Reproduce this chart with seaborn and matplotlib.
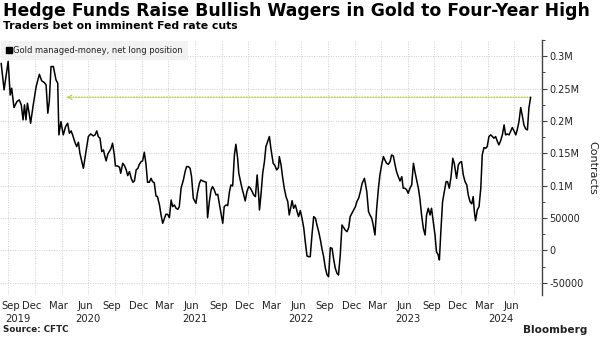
import matplotlib
matplotlib.use("Agg")
import matplotlib.pyplot as plt
import matplotlib.ticker as mticker
from matplotlib.lines import Line2D
import seaborn as sns
import pandas as pd

# ---------------- data ----------------
dates = [
    "2019-09-06", "2019-09-16", "2019-09-30", "2019-10-07", "2019-10-12", "2019-10-20", "2019-10-30",
    "2019-11-07", "2019-11-14", "2019-11-20", "2019-11-25", "2019-11-30", "2019-12-05", "2019-12-11",
    "2019-12-16", "2019-12-25", "2020-01-04", "2020-01-15", "2020-01-23", "2020-02-01", "2020-02-07",
    "2020-02-13", "2020-02-18", "2020-02-24", "2020-03-03", "2020-03-12", "2020-03-18", "2020-03-22",
    "2020-03-29", "2020-04-06", "2020-04-14", "2020-04-21", "2020-04-27", "2020-05-03", "2020-05-08",
    "2020-05-16", "2020-05-22", "2020-05-28", "2020-06-02", "2020-06-14", "2020-06-23", "2020-07-01",
    "2020-07-09", "2020-07-18",
    "2020-07-24", "2020-07-30", "2020-08-04", "2020-08-10", "2020-08-16", "2020-08-22", "2020-08-25",
    "2020-08-31", "2020-09-06", "2020-09-11", "2020-09-17", "2020-09-22", "2020-09-28", "2020-10-02",
    "2020-10-09", "2020-10-16", "2020-10-20", "2020-10-27", "2020-11-02", "2020-11-08", "2020-11-13",
    "2020-11-19", "2020-11-25", "2020-12-01", "2020-12-06", "2020-12-12", "2020-12-18", "2020-12-23",
    "2020-12-29", "2021-01-03", "2021-01-09", "2021-01-15", "2021-01-20", "2021-01-26", "2021-02-01",
    "2021-02-06", "2021-02-12", "2021-02-18", "2021-02-23", "2021-03-02", "2021-03-07", "2021-03-13",
    "2021-03-19", "2021-03-24", "2021-03-30", "2021-04-05", "2021-04-11", "2021-04-16", "2021-04-22",
    "2021-04-28", "2021-05-04", "2021-05-09", "2021-05-15", "2021-05-23", "2021-05-29",
    "2021-06-03", "2021-06-09", "2021-06-15", "2021-06-20", "2021-06-26", "2021-07-02", "2021-07-05",
    "2021-07-11", "2021-07-17", "2021-07-22", "2021-07-28", "2021-08-03", "2021-08-09", "2021-08-14",
    "2021-08-20", "2021-08-26", "2021-08-31", "2021-09-06", "2021-09-12", "2021-09-18", "2021-09-23",
    "2021-09-29", "2021-10-05", "2021-10-10", "2021-10-16", "2021-10-22", "2021-10-28", "2021-11-02",
    "2021-11-08", "2021-11-14", "2021-11-19", "2021-11-25", "2021-11-29", "2021-12-04", "2021-12-10",
    "2021-12-16", "2021-12-21", "2021-12-27", "2022-01-02", "2022-01-08", "2022-01-14", "2022-01-19",
    "2022-01-25", "2022-01-31", "2022-02-05", "2022-02-08", "2022-02-13", "2022-02-19", "2022-02-25",
    "2022-03-02", "2022-03-08", "2022-03-14", "2022-03-19",
    "2022-03-27", "2022-04-02", "2022-04-08", "2022-04-14", "2022-04-17", "2022-04-23", "2022-04-28",
    "2022-05-04", "2022-05-10", "2022-05-16", "2022-05-21", "2022-05-27", "2022-05-31", "2022-06-05",
    "2022-06-11", "2022-06-17", "2022-06-22", "2022-06-28", "2022-07-04", "2022-07-10", "2022-07-15",
    "2022-07-21", "2022-07-27", "2022-08-01", "2022-08-07", "2022-08-13", "2022-08-19", "2022-08-24",
    "2022-08-30", "2022-09-05", "2022-09-10", "2022-09-16", "2022-09-22", "2022-09-28", "2022-10-03",
    "2022-10-09", "2022-10-15", "2022-10-20", "2022-10-26", "2022-11-01", "2022-11-06", "2022-11-12",
    "2022-11-18", "2022-11-23", "2022-11-29", "2022-12-05", "2022-12-11", "2022-12-16", "2022-12-22",
    "2022-12-28", "2023-01-03", "2023-01-08", "2023-01-14", "2023-01-20", "2023-01-26", "2023-02-03",
    "2023-02-11", "2023-02-17", "2023-02-22", "2023-02-28", "2023-03-05", "2023-03-11", "2023-03-17",
    "2023-03-23", "2023-03-28", "2023-04-03", "2023-04-09", "2023-04-14", "2023-04-20", "2023-04-26",
    "2023-05-02", "2023-05-07", "2023-05-13", "2023-05-19", "2023-05-24", "2023-05-30", "2023-06-05",
    "2023-06-11", "2023-06-16", "2023-06-22", "2023-06-28", "2023-07-03", "2023-07-09", "2023-07-15",
    "2023-07-21", "2023-07-26", "2023-08-01", "2023-08-07", "2023-08-12", "2023-08-18", "2023-08-24",
    "2023-08-30", "2023-09-04", "2023-09-10", "2023-09-16", "2023-09-21", "2023-09-27", "2023-10-03",
    "2023-10-08", "2023-10-14", "2023-10-18", "2023-10-23", "2023-10-29", "2023-11-04", "2023-11-10",
    "2023-11-15", "2023-11-21", "2023-11-27", "2023-12-03", "2023-12-08",
    "2023-12-16", "2023-12-22", "2023-12-28", "2024-01-02", "2024-01-08", "2024-01-14", "2024-01-20",
    "2024-01-25", "2024-01-31", "2024-02-06", "2024-02-11", "2024-02-15", "2024-02-19", "2024-02-25",
    "2024-03-02", "2024-03-08", "2024-03-13", "2024-03-19", "2024-03-25", "2024-03-30", "2024-04-05",
    "2024-04-11", "2024-04-17", "2024-04-22", "2024-04-28", "2024-05-04", "2024-05-09", "2024-05-15",
    "2024-05-21", "2024-05-27", "2024-06-01", "2024-06-07", "2024-06-13", "2024-06-18", "2024-06-24",
    "2024-06-30", "2024-07-06", "2024-07-11", "2024-07-17", "2024-07-23", "2024-07-29", "2024-08-03",
    "2024-08-09", "2024-08-15", "2024-08-20", "2024-08-26",
]

net_long = [
    289000, 248000, 292000, 240000, 250500, 220600, 229900,
    232500, 224800, 201600, 224800, 201600, 227300, 211900,
    196400, 224800, 253000, 272000, 261900, 259300, 255700,
    211900, 229900, 284000, 284000, 263400, 258300, 178400,
    199000, 178400, 191300, 196400, 181000, 184500, 178400,
    167000, 160300, 167000, 150000, 126800, 152600, 175800,
    179900, 176800,
    178400, 184500, 175800, 173300, 152600, 155200, 148500,
    138200, 149000, 152600, 157700, 165500, 147400, 130400,
    130400, 128400, 119100, 134500, 130900, 124200, 115500,
    121700, 111300, 105200, 107200, 124200, 126800, 133000,
    137100, 138200, 151600, 132000, 105200, 105200, 111300,
    106200, 104600, 84000, 83000, 70100, 55700, 41800,
    49500, 55700, 55700, 50500, 77800, 67500, 70100,
    65000, 63400, 67500, 95900, 108800, 121700,
    129400, 129400, 126800, 113900, 80400, 75300, 72700,
    90700, 103600, 108800, 107200, 106200, 105200, 50500,
    75300, 93300, 98500, 93300, 85600, 86600, 72700,
    57200, 41800, 67500, 70100, 69100, 90700, 101000,
    99500, 147400, 163900, 142300, 119100, 108800, 95900,
    85600, 76300, 90700, 98500, 95900, 90700, 85600,
    83000, 116500, 85600, 62400, 85600, 119100, 137100,
    160300, 168100, 175800, 157700,
    134500, 130900, 124200, 127800, 144900, 132000, 113900,
    95900, 83000, 75300, 54600, 67500, 76800, 65000,
    70100, 59800, 52100, 61300, 49500, 34000, 13400,
    -8800, -9800, -9800, 23700, 52100, 49500, 39200,
    28900, 16000, 3100, -9800, -27800, -38100, -40700,
    4100, 3100, -12400, -27800, -35600, -38100, -7200,
    39200, 35600, 31400, 28900, 35100, 52100, 57200,
    62400, 67500, 75300, 80400, 90700, 103600, 111300,
    90700, 59800, 54600, 49500, 39200, 23700, 65000,
    95900, 116500, 132000, 144900, 139700, 134500, 133000,
    137100, 147400, 145900, 132000, 121700, 113900, 107200,
    113900, 95900, 95900, 93300, 88200, 95900, 101000,
    134500, 121700, 108800, 95900, 80400, 54600, 34000,
    23700, 54600, 65000, 54600, 65000, 44300, 23700,
    -2100, -7200, -14900, 28900, 75300, 90700, 106200,
    106200, 95900, 113900, 142300, 134500,
    111300, 132000, 136100, 137100, 116500, 106200, 101000,
    85600, 75300, 71700, 83000, 59800, 45900, 62400,
    67500, 95900, 147400, 158800, 157700, 160300, 175800,
    178400, 175800, 173200, 175800, 168100, 162900, 169100,
    178400, 193800, 178400, 179900, 178400, 183500, 189700,
    184500, 178400, 186100, 199000, 220600, 206700, 193800,
    187600, 186100, 219600, 236600,
]

y_ticks = [-50000, 0, 50000, 100000, 150000, 200000, 250000, 300000]
y_tick_labels = ["-50000", "0", "50000", "0.1M", "0.15M", "0.2M", "0.25M", "0.3M"]

month_tick_dates = [
    "2019-09-08", "2019-12-20", "2020-03-20", "2020-06-20", "2020-09-20", "2020-12-20",
    "2021-03-20", "2021-06-20", "2021-09-20", "2021-12-20", "2022-03-20", "2022-06-20",
    "2022-09-20", "2022-12-20", "2023-03-20", "2023-06-20", "2023-09-20", "2023-12-20",
    "2024-03-20", "2024-06-20",
]
month_tick_labels = ["Sep", "Dec", "Mar", "Jun"] * 5
year_tick_dates = ["2019-11-03", "2020-07-01", "2021-07-01", "2022-07-01", "2023-07-01", "2024-05-17"]
year_tick_labels = ["2019", "2020", "2021", "2022", "2023", "2024"]

arrow_back_to = "2020-04-16"

title = "Hedge Funds Raise Bullish Wagers in Gold to Four-Year High"
subtitle = "Traders bet on imminent Fed rate cuts"
series_label = "Gold managed-money, net long position"
source = "Source: CFTC"

# ---------------- figure ----------------
sns.set_theme(style="white")
plt.rcParams["font.family"] = ["DejaVu Sans"]

df = pd.DataFrame({"date": pd.to_datetime(dates), "value": net_long})

fig = plt.figure(figsize=(6, 3.38), dpi=100)
ax = fig.add_axes([0, 43 / 338, 542.3 / 600, 255 / 338])

# grid
grid_col = "#cfcfcf"
for y in y_ticks:
    ax.axhline(y, color=grid_col, lw=0.7, ls=(0, (1, 1.5)), zorder=0)
for q in pd.date_range("2019-10-01", "2024-07-01", freq="QS"):
    ax.axvline(q, color=grid_col, lw=0.7, ls=(0, (1, 1.5)), zorder=0)

sns.lineplot(data=df, x="date", y="value", color="black", lw=1.1, ax=ax, legend=False, zorder=3)

# dotted arrow at the latest level
last_date = df["date"].iloc[-1]
last_val = df["value"].iloc[-1]
ax.annotate("", xy=(pd.Timestamp(arrow_back_to), last_val), xytext=(last_date, last_val),
            arrowprops=dict(arrowstyle="->", color="#b3cd3f", lw=0.9, ls=(0, (1, 1.2)),
                            mutation_scale=8, shrinkA=0, shrinkB=0), zorder=2)

ax.set_xlim(pd.Timestamp("2019-09-02"), pd.Timestamp("2024-10-05"))
ax.set_ylim(-69000, 325000)

# spines
for s in ["left", "top", "bottom"]:
    ax.spines[s].set_visible(False)
ax.spines["right"].set_color("#444444")
ax.spines["right"].set_linewidth(1.0)

# y axis on right
ax.yaxis.tick_right()
ax.yaxis.set_label_position("right")
ax.set_yticks(y_ticks)
ax.set_yticklabels(y_tick_labels)
ax.yaxis.set_minor_locator(mticker.MultipleLocator(25000))
ax.tick_params(axis="y", which="major", direction="out", length=3.5, width=0.8,
               color="#444444", labelsize=7, labelcolor="#222222", pad=1.5, right=True, left=False)
ax.tick_params(axis="y", which="minor", direction="out", length=2, width=0.7,
               color="#444444", right=True, left=False)
ax.set_ylabel("Contracts", rotation=270, fontsize=8, color="#222222", labelpad=10)

# x axis labels
ax.set_xticks(pd.to_datetime(month_tick_dates))
ax.set_xticklabels(month_tick_labels)
ax.set_xticks(pd.to_datetime(year_tick_dates), minor=True)
ax.set_xticklabels(year_tick_labels, minor=True)
ax.tick_params(axis="x", which="major", length=0, labelsize=7.2, labelcolor="#222222", pad=4)
ax.tick_params(axis="x", which="minor", length=0, labelsize=7.2, labelcolor="#222222", pad=14)
ax.set_xlabel("")
ax.get_xticklabels()[0].set_horizontalalignment("left")

# legend
handle = Line2D([], [], marker="s", color="black", ls="none", markersize=4)
leg = ax.legend([handle], [series_label], loc="upper left", bbox_to_anchor=(0.002, 0.995),
                fontsize=6.0, frameon=True, fancybox=False, borderpad=0.6,
                handlelength=0.6, handletextpad=0.25, borderaxespad=0)
leg.get_frame().set_facecolor("#efefef")
leg.get_frame().set_edgecolor("none")
for t in leg.get_texts():
    t.set_color("#222222")

# texts
fig.text(3 / 600, 1 - 2 / 338, title, fontsize=12.45, fontweight="bold", color="black",
         ha="left", va="top")
fig.text(3 / 600, 1 - 21 / 338, subtitle, fontsize=7.8, fontweight="bold", color="black",
         ha="left", va="top")
fig.text(3 / 600, 8 / 338, source, fontsize=6.3, fontweight="bold", color="#222222",
         ha="left", va="center")
fig.text(523 / 600, 8 / 338, "Bloomberg", fontsize=7.6, fontweight="bold", color="#222222",
         ha="left", va="center")

fig.savefig("out.png", dpi=100)
